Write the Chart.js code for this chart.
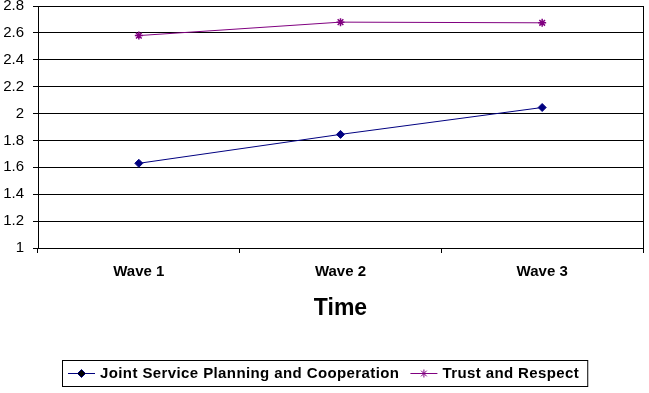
<!DOCTYPE html>
<html>
<head>
<meta charset="utf-8">
<script src="https://cdn.jsdelivr.net/npm/chart.js@4"></script>
<style>
  body { margin: 0; background: #fff; }
  #wrap { width: 649px; height: 393px; }
</style>
</head>
<body>
<div id="wrap"><canvas id="chart" width="649" height="393"></canvas></div>
<script>
const waves = ['Wave 1', 'Wave 2', 'Wave 3'];
const jointService = [1.63, 1.845, 2.045];
const trustRespect = [2.58, 2.68, 2.675];
const yMin = 1;
const yMax = 2.8;
const yStep = 0.2;

const FONT = "'Liberation Sans', Arial, sans-serif";

// right edge of the plot box
const plotBorder = {
  id: 'plotBorder',
  afterDraw(chart) {
    const { ctx, chartArea } = chart;
    ctx.save();
    ctx.strokeStyle = '#000';
    ctx.lineWidth = 1;
    ctx.beginPath();
    ctx.moveTo(Math.round(chartArea.right) + 0.5, chartArea.top);
    ctx.lineTo(Math.round(chartArea.right) + 0.5, chartArea.bottom);
    ctx.stroke();
    ctx.restore();
  }
};

// excel style legend: line + marker + text, in a box
const boxLegend = {
  id: 'boxLegend',
  afterDraw(chart) {
    const ctx = chart.ctx;
    const sets = chart.data.datasets;
    ctx.save();
    ctx.font = 'bold 15px ' + FONT;
    ctx.letterSpacing = '0.4px';
    const lineLen = 27, gapText = 5, gapItem = 11, padL = 6, padR = 8;
    const widths = sets.map(d => ctx.measureText(d.label).width);
    let total = padL + padR;
    widths.forEach((w, i) => { total += lineLen + gapText + w + (i > 0 ? gapItem : 0); });
    const boxH = 26;
    const left = Math.round((chart.width - total) / 2);
    const top = 360;
    const cy = top + boxH / 2;
    ctx.strokeStyle = '#000';
    ctx.lineWidth = 1;
    ctx.strokeRect(left + 0.5, top + 0.5, total, boxH);
    let x = left + padL;
    sets.forEach((d, i) => {
      if (i > 0) x += gapItem;
      ctx.strokeStyle = d.borderColor;
      ctx.lineWidth = 1;
      ctx.beginPath();
      ctx.moveTo(x, cy + 0.5);
      ctx.lineTo(x + lineLen, cy + 0.5);
      ctx.stroke();
      Chart.helpers.drawPoint(ctx, {
        pointStyle: d.pointStyle,
        radius: d.pointRadius,
        rotation: 0,
        borderWidth: 1
      }, x + lineLen / 2, cy + 0.5);
      ctx.fillStyle = d.pointBackgroundColor;
      ctx.strokeStyle = d.pointBorderColor;
      x += lineLen + gapText;
      ctx.fillStyle = '#000';
      ctx.textBaseline = 'middle';
      ctx.textAlign = 'left';
      ctx.fillText(d.label, x, cy + 1);
      x += widths[i];
    });
    ctx.restore();
  }
};

new Chart(document.getElementById('chart'), {
  type: 'line',
  data: {
    labels: waves,
    datasets: [
      {
        label: 'Joint Service Planning and Cooperation',
        data: jointService,
        borderColor: '#000080',
        backgroundColor: '#000080',
        pointBackgroundColor: '#000080',
        pointBorderColor: '#000080',
        pointStyle: 'rectRot',
        pointRadius: 4,
        borderWidth: 1,
        tension: 0
      },
      {
        label: 'Trust and Respect',
        data: trustRespect,
        borderColor: '#800080',
        backgroundColor: '#800080',
        pointBackgroundColor: '#800080',
        pointBorderColor: '#800080',
        pointStyle: 'star',
        pointRadius: 4,
        pointBorderWidth: 1.5,
        borderWidth: 1,
        tension: 0
      }
    ]
  },
  options: {
    responsive: false,
    animation: false,
    layout: { padding: { top: 6, right: 6, bottom: 71, left: 0 } },
    plugins: {
      legend: { display: false },
      tooltip: { enabled: false }
    },
    scales: {
      x: {
        offset: true,
        grid: { display: true, drawOnChartArea: false, color: '#000', tickLength: 5, offset: true },
        border: { display: true, color: '#000' },
        ticks: { color: '#000', font: { family: FONT, size: 15, weight: 'bold' }, padding: 10, maxRotation: 0 },
        title: { display: true, text: 'Time', color: '#000', font: { family: FONT, size: 23, weight: 'bold' }, padding: { top: 0, bottom: 0 } },
        afterFit(scale) {
          scale.height = 74;
          scale.paddingLeft = 0;
          scale.paddingRight = 0;
        }
      },
      y: {
        min: yMin,
        max: yMax,
        grid: { color: '#000', tickLength: 5 },
        border: { display: true, color: '#000' },
        ticks: {
          stepSize: yStep,
          color: '#000',
          padding: 9,
          font: { family: FONT, size: 15 },
          callback: v => String(+v.toFixed(1))
        },
        afterFit(scale) {
          scale.width = 38;
          scale.paddingTop = 0;
          scale.paddingBottom = 0;
        }
      }
    }
  },
  plugins: [plotBorder, boxLegend]
});
</script>
</body>
</html>
